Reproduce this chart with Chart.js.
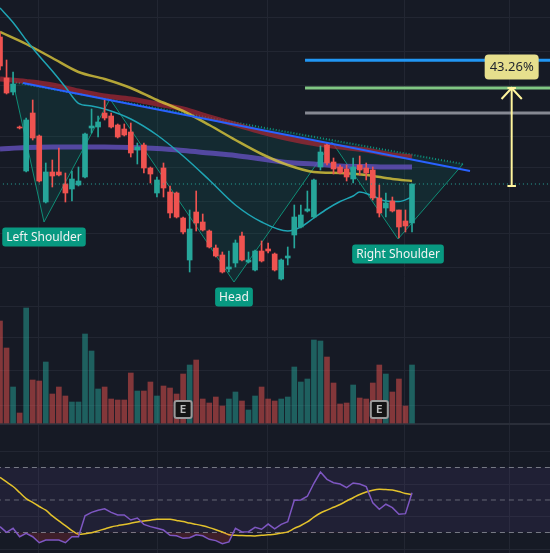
<!DOCTYPE html>
<html><head><meta charset="utf-8">
<script src="https://cdn.jsdelivr.net/npm/chart.js@4.4.1/dist/chart.umd.min.js"></script>
<style>html,body{margin:0;padding:0;background:#161a25;overflow:hidden}#wrap{position:relative;width:550px;height:553px}</style>
</head><body><div id="wrap"><canvas id="c"></canvas></div>
<script>
// ---- candles (price units) ----
const opens  = [184.5,164,157,139.5,117.5,146.5,135,102,117,117,111,108.5,110.5,114.5,139,139.5,146.5,145,140.5,138.5,137,128,130.5,119,106.5,119,107,106.5,94,73,97,92,87.5,79,75.5,68.5,71.5,85,72,68,77.5,78.5,76,63.5,74,85.5,89.5,97.5,94.5,119.5,130.5,122,119.5,118.5,113.5,120.5,119,118,104,99,102.5,98,92.5,91.5];
const highs  = [187,173,167,140,144,153,135.5,121.5,123,129,116.5,117.5,119.5,136.5,148.5,145,153,146.5,141,141,141.5,131.5,131.5,119.5,114.5,121.5,110,107,94.5,98,107.5,96,88,80.5,77,77.5,83,87,77,78,82.5,81.5,76.5,73.5,79.5,100.5,100.5,107.5,113.5,130,131.5,124,120.5,120.5,124,125,121.5,119.5,110.5,106.5,104.5,98,98,111];
const lows   = [168,156,155.5,138.5,117,133,112,101.5,109.5,115,102,102.5,110,114,136.5,134.5,143,139,134,135,124.5,121,116.5,111.5,104.5,104.5,94,94,86,67,87.5,87.5,79,74.5,66.5,67,69.5,72.5,71.5,67.5,72,76.5,67.5,63,70.5,79,89,97,94,118,120.5,116,116,112.5,111.5,115.5,113,103,94.5,94.5,97,84,87,87];
const closes = [170,156.5,161,139,143,134,112.5,117,115,115.5,106.5,113.5,112.5,136,140,142,144,139.5,134.5,135.5,126.5,129.5,119,116,113,109,96.5,94.5,87,88.5,91.5,88,79.5,75,67,69.5,81.5,73,73,77.5,72.5,77.5,68,73,75,94.5,95.5,98.5,113,127,121.5,118.5,116.5,114.5,119.5,118,116.5,104,96.5,101.5,97.5,89.5,90,111];
const volumes = [10.2,7.5,3.6,1.0,11.5,4.3,4.2,6.1,2.9,3.6,2.7,2.1,2.1,8.9,7.2,3.4,3.6,2.4,2.3,2.3,5.0,3.2,3.2,4.1,2.7,3.7,3.5,2.9,4.9,5.8,6.3,2.4,2.0,2.6,1.7,2.4,3.1,2.2,1.3,2.7,3.6,2.4,2.2,2.4,2.6,5.6,4.1,4.4,8.3,8.2,6.6,4.0,1.9,2.0,3.8,2.5,2.4,4.0,5.8,4.9,3.1,4.4,1.7,5.8];
// ---- RSI ----
const rsi   = [33.6,30.1,32.6,27.4,29.5,27.4,23.7,25.4,25.4,25.4,23.7,27.4,27.4,40.3,42.4,43.7,44.6,42.4,40.8,40.8,37.7,38.9,35.0,33.6,32.6,31.5,28.3,28.0,26.4,26.8,28.6,28.0,25.8,25.0,23.1,24.2,32.6,30.3,30.5,33.2,32.0,35.2,32.2,35.0,36.6,49.8,50.0,52.3,60.3,67.2,62.7,60.6,59.8,57.6,60.5,59.8,58.2,48.3,44.3,47.4,45.3,41.2,41.6,54.5];
const rsiMA = [64.0,61.1,58.3,54.6,50.9,48.5,46.0,43.7,40.2,37.1,34.2,31.2,28.9,29.3,29.8,31.0,32.2,33.4,34.2,34.9,35.7,36.5,37.1,37.6,38.1,38.1,38.1,37.4,36.7,35.8,35.0,34.1,33.0,31.7,30.3,28.6,28.3,28.1,28.0,27.9,28.3,28.6,28.9,29.7,30.4,32.5,34.3,36.5,39.5,42.0,43.8,45.5,47.2,49.4,51.4,53.4,54.9,56.0,56.6,56.4,56.2,55.2,54.0,53.3];
const rsiLevels = [70, 50, 30];
// ---- moving averages (sampled) ----
const maIdx    = [0,4,8,12,16,20,24,28,32,36,40,44,48,52,56,60,63];
const maYellow = [187,181,174,167,163.5,159,153,147.5,140.5,133,126,120.5,117,116.5,115.5,113.5,112.5];
const maRed    = [163.5,162.25,160.5,157.5,155,153.5,151,148.5,144.5,140.75,137,133.75,131.25,129.5,128,125.5,124.5];
const maPurple = [128.5,129.25,129.5,129.5,129.5,129.25,128.75,127.75,126.5,125.25,123.5,121.75,121,120,119.75,119.5,119.5];
const cyanIdx  = [0,2,4,6,8,10,12,14,16,20,24,28,32,36,40,44,46,48,50,52,54,55,57,59,61,63];
const maCyan   = [199,191.75,183,175,167.5,159.5,151.35,150,148.5,143.5,135.5,125,113,100.5,92,87.5,89.5,94,98.5,102.25,105,107,105,102.5,102.25,104.5];
// ---- head & shoulders pattern ----
const patX = [1.99,6.73,16.82,35.78,50.76,60.86,70.8];
const patY = [162,92,153.5,62,132,83.5,121];
const patLabels = ['Left Shoulder','Head','Right Shoulder'];
const patLabelPoint = [1,3,5];
// ---- drawings ----
const trendX = [3.52,71.87], trendY = [161.5,117.5];
const levelStartX = 46.64;
const levelPrices = [172.85,159,146.5];
const levelColors = ['#2196f3','#81c784','#868993'];
const measureX = 78.24, measureFrom = 110, measureTo = 159, measureText = '43.26%';
const earningsIdx = [28,58], earningsLevel = 1.35;
// ---- grid ----
const xGrid = [5.81,24.01,40.83,61.77,77.83];
const priceGrid = [194.5,177.5,160.5,135,119.5,102.5,86.5,69.5];
const volGrid = [11.7,8.6,5.3,1.8];
const rsiGrid = [80,60,40,20];
const paneSep = 96.8;

const GREEN='#26a69a', RED='#ef5350';
const isUp = i => closes[i] >= opens[i];
const idx = opens.map((_,i)=>i);
const pts = (xs,ys)=>xs.map((x,k)=>({x, y:ys[k]}));
const hl = (x0,x1,v)=>[{x:x0,y:v},{x:x1,y:v}];

const line = (o)=>Object.assign({type:'line', pointRadius:0, borderWidth:1, fill:false, tension:0}, o);

const datasets = [
  line({yAxisID:'yRsi', data:hl(-2,90,rsiLevels[0]), borderColor:'#787b86', borderDash:[5,4],
        fill:{target:{value:rsiLevels[2]}, above:'rgba(126,87,194,0.10)', below:'rgba(0,0,0,0)'}, order:100}),
  line({yAxisID:'yRsi', data:hl(-2,90,rsiLevels[1]), borderColor:'rgba(120,123,134,0.8)', borderDash:[5,4], order:99}),
  line({yAxisID:'yRsi', data:hl(-2,90,rsiLevels[2]), borderColor:'#787b86', borderDash:[5,4], order:98}),
  {type:'bar', yAxisID:'yVol', data:idx.map(i=>({x:i,y:volumes[i]})),
   backgroundColor:idx.map(i=>isUp(i)?'rgba(38,166,154,0.5)':'rgba(239,83,80,0.5)'),
   barThickness:5, grouped:false, order:90},
];
const dottedIndex = datasets.length;
datasets.push(line({yAxisID:'y', data:[{x:patX[0],y:patY[0]},{x:patX[6],y:patY[6]}], borderColor:'rgba(12,160,135,0.9)', borderWidth:2, borderDash:[1,2], order:81}));
datasets.push(line({yAxisID:'y', data:pts(patX,patY), borderColor:'rgba(14,160,132,0.85)', borderWidth:1,
  fill:{target:dottedIndex, above:'rgba(8,153,129,0.13)', below:'rgba(8,153,129,0.13)'}, order:80}));
const ma = (xs,ys,color,w,order)=>line({yAxisID:'y', data:pts(xs,ys), borderColor:color, borderWidth:w, cubicInterpolationMode:'monotone', order});
datasets.push(ma(maIdx,maPurple,'rgba(100,80,190,0.8)',5,70));
datasets.push(ma(maIdx,maRed,'rgba(170,40,52,0.7)',5,69));
datasets.push(ma(maIdx,maYellow,'rgba(220,200,60,0.8)',2.5,68));
datasets.push(ma(cyanIdx,maCyan,'#1fa5b5',1.5,67));
datasets.push({type:'bar', yAxisID:'y', data:idx.map(i=>({x:i,y:[lows[i],highs[i]]})),
  backgroundColor:idx.map(i=>isUp(i)?GREEN:RED), barThickness:1, grouped:false, order:20});
datasets.push({type:'bar', yAxisID:'y', data:idx.map(i=>({x:i,y:[opens[i],closes[i]]})),
  backgroundColor:idx.map(i=>isUp(i)?GREEN:RED), barThickness:5, minBarLength:1, grouped:false, order:19});
datasets.push(line({yAxisID:'y', data:pts(trendX,trendY), borderColor:'#2962ff', borderWidth:2, order:10}));
levelPrices.forEach((p,k)=>datasets.push(line({yAxisID:'y', data:hl(levelStartX,90,p), borderColor:levelColors[k], borderWidth:3, order:11})));
datasets.push(line({yAxisID:'y', data:hl(-2,90,closes[closes.length-1]), borderColor:'#26a69a', borderDash:[1,3], order:9}));
const AY='#fff59d';
datasets.push(line({yAxisID:'y', data:[{x:measureX,y:measureFrom},{x:measureX,y:measureTo}], borderColor:AY, borderWidth:2, order:5}));
datasets.push(line({yAxisID:'y', data:hl(measureX-0.65,measureX+0.65,measureFrom), borderColor:AY, borderWidth:2, order:5}));
datasets.push(line({yAxisID:'y', data:hl(measureX-0.65,measureX+0.65,measureTo), borderColor:AY, borderWidth:2, order:5}));
datasets.push(line({yAxisID:'y', data:[{x:measureX-1.55,y:measureTo-5.5},{x:measureX,y:measureTo},{x:measureX+1.55,y:measureTo-5.5}], borderColor:AY, borderWidth:2, order:5}));
datasets.push(line({yAxisID:'yRsi', data:pts(idx,rsiMA), borderColor:'#e3c22c', borderWidth:1.5, tension:0.3, order:4}));
datasets.push(line({yAxisID:'yRsi', data:pts(idx,rsi), borderColor:'#7e57c2', borderWidth:1.5,
  fill:{target:{value:rsiLevels[2]}, above:'rgba(0,0,0,0)', below:'rgba(242,54,69,0.18)'}, order:3}));

const deco = {
  id:'deco',
  beforeDatasetsDraw(chart){
    const {ctx, chartArea:a, scales:{x,y,yVol,yRsi}} = chart;
    ctx.save(); ctx.strokeStyle='#222632'; ctx.lineWidth=1;
    const h = py=>{const q=Math.round(py)+0.5; ctx.beginPath(); ctx.moveTo(a.left,q); ctx.lineTo(a.right,q); ctx.stroke();};
    priceGrid.forEach(v=>h(y.getPixelForValue(v)));
    volGrid.forEach(v=>h(yVol.getPixelForValue(v)));
    rsiGrid.forEach(v=>h(yRsi.getPixelForValue(v)));
    xGrid.forEach(v=>{const q=Math.round(x.getPixelForValue(v))+0.5; ctx.beginPath(); ctx.moveTo(q,a.top); ctx.lineTo(q,a.bottom); ctx.stroke();});
    ctx.strokeStyle='#2a2e39'; ctx.lineWidth=2;
    const s=yRsi.getPixelForValue(paneSep); ctx.beginPath(); ctx.moveTo(a.left,s); ctx.lineTo(a.right,s); ctx.stroke();
    ctx.restore();
  },
  afterDatasetsDraw(chart){
    const {ctx, scales:{x,y,yVol}} = chart;
    ctx.save();
    ctx.textAlign='center'; ctx.textBaseline='middle';
    // pattern labels
    ctx.font='12px "Noto Sans"';
    patLabels.forEach((t,k)=>{
      const p=patLabelPoint[k];
      const cx=x.getPixelForValue(patX[p]), cy=y.getPixelForValue(patY[p])+15;
      const w=ctx.measureText(t).width+8, hh=19;
      ctx.fillStyle='#089981'; ctx.beginPath(); ctx.roundRect(cx-w/2,cy-hh/2,w,hh,3); ctx.fill();
      ctx.fillStyle='#f2f2f2'; ctx.fillText(t,cx,cy+0.5);
    });
    // earnings markers
    earningsIdx.forEach(i=>{
      const cx=x.getPixelForValue(i), cy=yVol.getPixelForValue(earningsLevel);
      ctx.fillStyle='#141414'; ctx.strokeStyle='#9a9a9a'; ctx.lineWidth=2;
      ctx.beginPath(); ctx.roundRect(cx-8.5,cy-8.5,17,17,2); ctx.fill(); ctx.stroke();
      ctx.fillStyle='#bdbdbd'; ctx.font='bold 11px "DejaVu Sans Mono"'; ctx.fillText('E',cx,cy+0.5);
    });
    // measurement label
    const mx=x.getPixelForValue(measureX), my=y.getPixelForValue(measureTo)-21;
    ctx.fillStyle='#e6df8d'; ctx.beginPath(); ctx.roundRect(mx-27,my-12.5,54,25,4); ctx.fill();
    ctx.fillStyle='#1e222d'; ctx.font='13px "Noto Sans"'; ctx.fillText(measureText,mx,my+0.5);
    ctx.restore();
  }
};

new Chart(document.getElementById('c'), {
  type:'bar',
  data:{datasets},
  options:{
    responsive:true, maintainAspectRatio:false, animation:false, devicePixelRatio:1, events:[],
    layout:{padding:0},
    plugins:{legend:{display:false}, tooltip:{enabled:false}},
    scales:{
      x:{type:'linear', min:0, max:84.1, display:false, offset:false},
      y:{type:'linear', min:-73.5, max:203, display:false},
      yVol:{type:'linear', min:-13, max:42.3, display:false},
      yRsi:{type:'linear', min:17.38, max:357.7, display:false}
    }
  },
  plugins:[deco]
});
</script></body></html>
